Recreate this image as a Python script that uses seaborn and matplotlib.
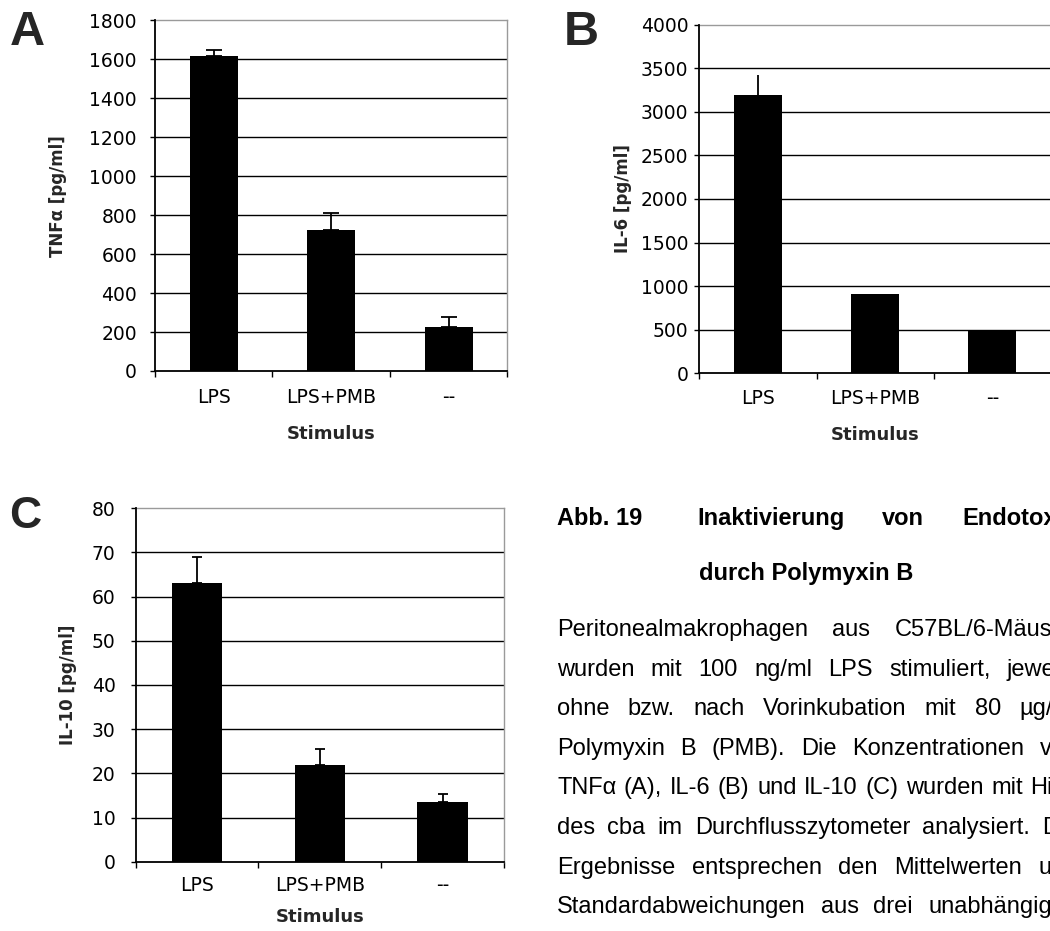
import numpy as np
import matplotlib
matplotlib.use("Agg")
import matplotlib.pyplot as plt
import seaborn as sns

# Data (means and upper standard deviations)
stimulus = ["LPS", "LPS+PMB", "--"]
tnf_mean = [1617, 725, 227]
tnf_sd = [31, 88, 49]
il6_mean = [3195, 909, 497]
il6_sd = [230, 0, 0]
il10_mean = [63.0, 21.8, 13.6]
il10_sd = [6.0, 3.8, 1.8]

tnf_ticks = np.arange(0, 1801, 200)
il6_ticks = np.arange(0, 4001, 500)
il10_ticks = np.arange(0, 81, 10)

caption_head = ["Inaktivierung", "von", "Endotoxin"]
caption_sub = "durch Polymyxin B"
caption_lines = [
    "Peritonealmakrophagen aus C57BL/6-Mäusen",
    "wurden mit 100 ng/ml LPS stimuliert, jeweils",
    "ohne bzw. nach Vorinkubation mit 80 µg/ml",
    "Polymyxin B (PMB). Die Konzentrationen von",
    "TNFα (A), IL-6 (B) und IL-10 (C) wurden mit Hilfe",
    "des cba im Durchflusszytometer analysiert. Die",
    "Ergebnisse entsprechen den Mittelwerten und",
    "Standardabweichungen aus drei unabhängigen",
]

sns.set_theme(style="ticks")
plt.rcParams["font.family"] = ["DejaVu Sans"]

W, H = 1050, 931
fig = plt.figure(figsize=(W / 100, H / 100), dpi=100)


def px_axes(left, top, right, bottom):
    return fig.add_axes([left / W, 1 - bottom / H, (right - left) / W, (bottom - top) / H])


def bar_panel(ax, means, sds, ticks, ylabel, capsize, ylab_x, xlab_y, ytick_pad, xtick_pad):
    sns.barplot(x=stimulus, y=means, color="black", saturation=1, width=0.41,
                errorbar=None, edgecolor="black", linewidth=0, ax=ax, zorder=3)
    # upper error only; the lower cap sits hidden behind the bar
    ax.errorbar(range(len(stimulus)), means, yerr=[np.zeros(len(sds)), sds],
                fmt="none", ecolor="black", elinewidth=1.3, capsize=capsize,
                capthick=1.3, zorder=2)
    ax.set_ylim(ticks[0], ticks[-1])
    ax.set_yticks(ticks)
    ax.set_yticklabels([str(t) for t in ticks])
    ax.set_xlim(-0.5, len(stimulus) - 0.5)
    ax.set_xticks(range(len(stimulus)))
    ax.set_xticklabels(stimulus)
    ax.set_xticks(np.arange(len(stimulus) + 1) - 0.5, minor=True)
    ax.tick_params(axis="x", which="major", length=0, pad=xtick_pad, labelsize=13.5, colors="black")
    ax.tick_params(axis="x", which="minor", length=4.3, width=1.0, direction="out", color="black")
    ax.tick_params(axis="y", which="major", length=3.6, width=1.0, direction="out",
                   pad=ytick_pad, labelsize=13.5, colors="black")
    ax.set_axisbelow(True)
    ax.yaxis.grid(True, color="black", linewidth=1.0)
    for tick in ax.yaxis.get_major_ticks():
        if tick.get_loc() in (ticks[0], ticks[-1]):
            tick.gridline.set_visible(False)
    for side in ("left", "bottom"):
        ax.spines[side].set_color("black")
        ax.spines[side].set_linewidth(1.3)
        ax.spines[side].set_zorder(5)
    for side in ("top", "right"):
        ax.spines[side].set_visible(True)
        ax.spines[side].set_color("#9a9a9a")
        ax.spines[side].set_linewidth(1.0)
    ax.set_facecolor("white")
    ax.set_ylabel(ylabel, fontsize=12, fontweight="bold")
    ax.yaxis.set_label_coords(ylab_x, 0.5)
    ax.yaxis.label.set_verticalalignment("center")
    ax.set_xlabel("Stimulus", fontsize=13, fontweight="bold")
    ax.xaxis.set_label_coords(0.5, xlab_y)
    ax.xaxis.label.set_verticalalignment("top")


ax_a = px_axes(155, 20.3, 507.3, 371)
bar_panel(ax_a, tnf_mean, tnf_sd, tnf_ticks, "TNFα [pg/ml]", 5.5, -0.276, -0.155, 9.4, 12.2)

ax_b = px_axes(699.3, 24.5, 1051, 373.3)
bar_panel(ax_b, il6_mean, il6_sd, il6_ticks, "IL-6 [pg/ml]", 0, -0.216, -0.152, 4.3, 11.0)

ax_c = px_axes(135.5, 508.3, 504, 861.7)
bar_panel(ax_c, il10_mean, il10_sd, il10_ticks, "IL-10 [pg/ml]", 3.6, -0.182, -0.130, 10.8, 10.0)

# Overlay in pixel coordinates for panel letters and the caption
tax = fig.add_axes([0, 0, 1, 1], zorder=-1)
tax.set_xlim(0, W)
tax.set_ylim(H, 0)
tax.axis("off")

letter_kw = dict(family=["Liberation Sans", "DejaVu Sans"], fontweight="bold", va="baseline", ha="left")
tax.text(10, 45, "A", fontsize=35, **letter_kw)
tax.text(564, 45, "B", fontsize=35, **letter_kw)
tax.text(9, 528, "C", fontsize=32, **letter_kw)

renderer = fig.canvas.get_renderer()
body_kw = dict(family=["Liberation Sans", "DejaVu Sans"], fontsize=17, va="baseline", ha="left", color="black")
head_kw = dict(body_kw, fontweight="bold")


def justify(words, x0, x1, y, **kw):
    texts = [tax.text(0, y, w, **kw) for w in words]
    widths = [t.get_window_extent(renderer).width for t in texts]
    gap = (x1 - x0 - sum(widths)) / max(len(words) - 1, 1)
    x = x0
    for t, w in zip(texts, widths):
        t.set_x(x)
        x += w + gap


text_left, text_right = 557, 1078
tax.text(text_left, 525, "Abb. 19", **head_kw)
justify(caption_head, 697, text_right, 525, **head_kw)
tax.text(699, 580, caption_sub, **head_kw)

line_gap = 39.6
for i, line in enumerate(caption_lines):
    justify(line.split(" "), text_left, text_right, 636 + i * line_gap, **body_kw)

fig.savefig("out.png", dpi=100, facecolor="white")
